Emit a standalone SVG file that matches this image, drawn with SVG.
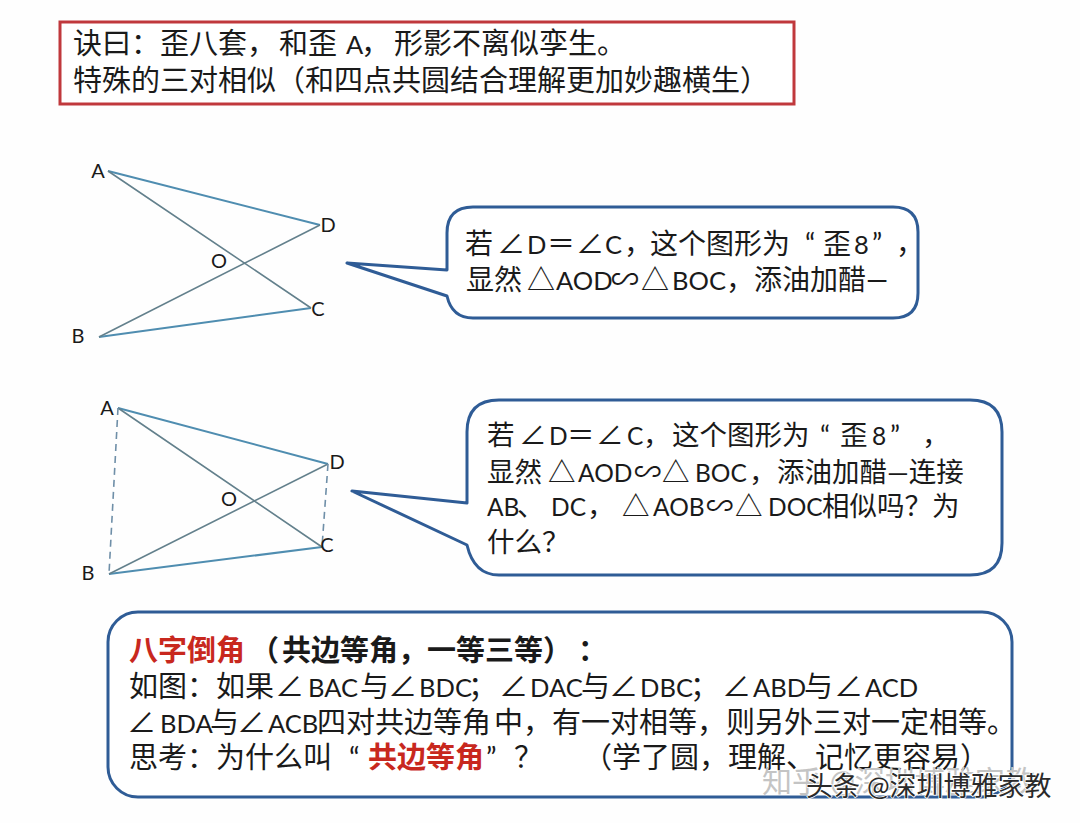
<svg xmlns="http://www.w3.org/2000/svg" width="1080" height="823" viewBox="0 0 1080 823">
<style>
text{font-family:"Lato","Noto Sans CJK SC",sans-serif;fill:#1a1a1a}
.t{font-size:29px}
.c1{font-size:28px}
.c2{font-size:27.5px}
.n{font-size:25.5px}
.m{font-size:24.5px}
.l{font-size:20px;text-anchor:middle}
.bub{fill:#fff;stroke:#2f5c96;stroke-width:3;stroke-linejoin:round}
.bl{stroke:#4f8db0;stroke-width:2;fill:none}
.gr{stroke:#63808c;stroke-width:1.6;fill:none}
.da{stroke:#6f8fa8;stroke-width:1.6;fill:none;stroke-dasharray:7 5}
.red{fill:#c8281e}
.wm1{fill:#c4c4c4;font-size:30px}
.wm2{fill:#2a2a2a;font-size:27px;stroke:#fff;stroke-width:1.5px;paint-order:stroke}
</style>
<rect width="1080" height="823" fill="#fefefe"/>
<g id="title">
<rect x="60" y="22" width="734" height="82" fill="#fff" stroke="#c0383c" stroke-width="3"/>
<text class="t" y="54"><tspan x="73">诀曰：歪八套，</tspan><tspan x="279">和歪</tspan><tspan x="346" class="n">A</tspan><tspan x="361">，</tspan><tspan x="394">形影不离似孪生。</tspan></text>
<text class="t" x="73" y="91">特殊的三对相似（和四点共圆结合理解更加妙趣横生）</text>
</g>
<g id="connectors">
<path class="bl" d="M108 171L320 225M99 337L311 308"/>
<path class="gr" d="M108 171L311 308M99 337L320 225"/>
<path class="bl" d="M118 408L328 464M109 574L322 547"/>
<path class="gr" d="M118 408L322 547M109 574L328 464"/>
<path class="da" d="M118 408L109 574M328 464L322 547"/>
</g>
<g id="fig1-labels">
<text class="l" x="98" y="178">A</text>
<text class="l" x="328" y="232">D</text>
<text class="l" x="219" y="268">O</text>
<text class="l" x="318" y="316">C</text>
<text class="l" x="78" y="343">B</text>
</g>
<g id="fig2-labels">
<text class="l" x="107" y="415">A</text>
<text class="l" x="337" y="469">D</text>
<text class="l" x="229" y="506">O</text>
<text class="l" x="327" y="552">C</text>
<text class="l" x="88" y="580">B</text>
</g>
<g id="callout1">
<path class="bub" d="M347 263L447 270V233Q447 207 473 207H893Q918 207 918 232V293Q918 318 893 318H473Q452 318 447 296Z"/>
<text class="c1" y="254"><tspan x="465">若</tspan><tspan x="497">∠</tspan><tspan x="527" class="n">D</tspan><tspan x="547">＝</tspan><tspan x="576">∠</tspan><tspan x="605" class="n">C</tspan><tspan x="624">，</tspan><tspan x="650">这个图形为</tspan><tspan x="805">“</tspan><tspan x="823">歪</tspan><tspan x="854" class="n">8</tspan><tspan x="872">”</tspan><tspan x="896">，</tspan></text>
<text class="c1" y="290"><tspan x="466">显然</tspan><tspan x="527">△</tspan><tspan x="556" class="n">AOD</tspan><tspan x="611">∽</tspan><tspan x="641">△</tspan><tspan x="672" class="n">BOC</tspan><tspan x="726">，</tspan><tspan x="754">添油加醋—</tspan></text>
</g>
<g id="callout2">
<path class="bub" d="M352 491L467 503V432Q467 400 499 400H970Q1002 400 1002 432V543Q1002 575 970 575H499Q474 575 467 545Z"/>
<text class="c2" y="445"><tspan x="487">若</tspan><tspan x="519">∠</tspan><tspan x="549" class="m">D</tspan><tspan x="567">＝</tspan><tspan x="596">∠</tspan><tspan x="627" class="m">C</tspan><tspan x="643">，</tspan><tspan x="672">这个图形为</tspan><tspan x="820">“</tspan><tspan x="840">歪</tspan><tspan x="872" class="m">8</tspan><tspan x="890">”</tspan><tspan x="922">，</tspan></text>
<text class="c2" y="482"><tspan x="487">显然</tspan><tspan x="548">△</tspan><tspan x="578" class="m">AOD</tspan><tspan x="634">∽</tspan><tspan x="662">△</tspan><tspan x="695" class="m">BOC</tspan><tspan x="749">，</tspan><tspan x="777">添油加醋—连接</tspan></text>
<text class="c2" y="516"><tspan x="487" class="m">AB</tspan><tspan x="517">、</tspan><tspan x="551" class="m">DC</tspan><tspan x="587">，</tspan><tspan x="622">△</tspan><tspan x="653" class="m">AOB</tspan><tspan x="706">∽</tspan><tspan x="735">△</tspan><tspan x="768" class="m">DOC</tspan><tspan x="822">相似吗？为</tspan></text>
<text class="c2" x="487" y="552">什么？</text>
</g>
<g id="summary">
<rect class="bub" x="108" y="612" width="904" height="185" rx="30"/>
<text class="t" y="661" font-weight="bold"><tspan class="red" x="129">八字倒角</tspan><tspan x="250">（</tspan><tspan x="282">共边等角，一等三等）</tspan><tspan x="578">：</tspan></text>
<text class="t" y="697"><tspan x="129">如图：如果</tspan><tspan x="275">∠</tspan><tspan x="308" class="n">BAC</tspan><tspan x="360">与</tspan><tspan x="388">∠</tspan><tspan x="419" class="n">BDC</tspan><tspan x="468">；</tspan><tspan x="499">∠</tspan><tspan x="530" class="n">DAC</tspan><tspan x="581">与</tspan><tspan x="609">∠</tspan><tspan x="640" class="n">DBC</tspan><tspan x="690">；</tspan><tspan x="722">∠</tspan><tspan x="753" class="n">ABD</tspan><tspan x="804">与</tspan><tspan x="834">∠</tspan><tspan x="865" class="n">ACD</tspan></text>
<text class="t" y="733"><tspan x="127">∠</tspan><tspan x="160" class="n">BDA</tspan><tspan x="210">与</tspan><tspan x="237">∠</tspan><tspan x="268" class="n">ACB</tspan><tspan x="317">四对共边等角</tspan><tspan x="494">中，有一对相等，则另外三对一定相等。</tspan></text>
<text class="t" y="768"><tspan x="129">思考：为什么叫</tspan><tspan x="349">“</tspan><tspan class="red" font-weight="bold" x="368">共边等角</tspan><tspan x="486">”</tspan><tspan x="514">？</tspan><tspan x="583">（学了圆，理解、记忆更容易）</tspan></text>
</g>
<g id="watermark">
<text class="wm1" x="762" y="792">知乎 @深圳博雅家教</text>
<text class="wm2" x="806" y="796">头条 @深圳博雅家教</text>
</g>
</svg>
